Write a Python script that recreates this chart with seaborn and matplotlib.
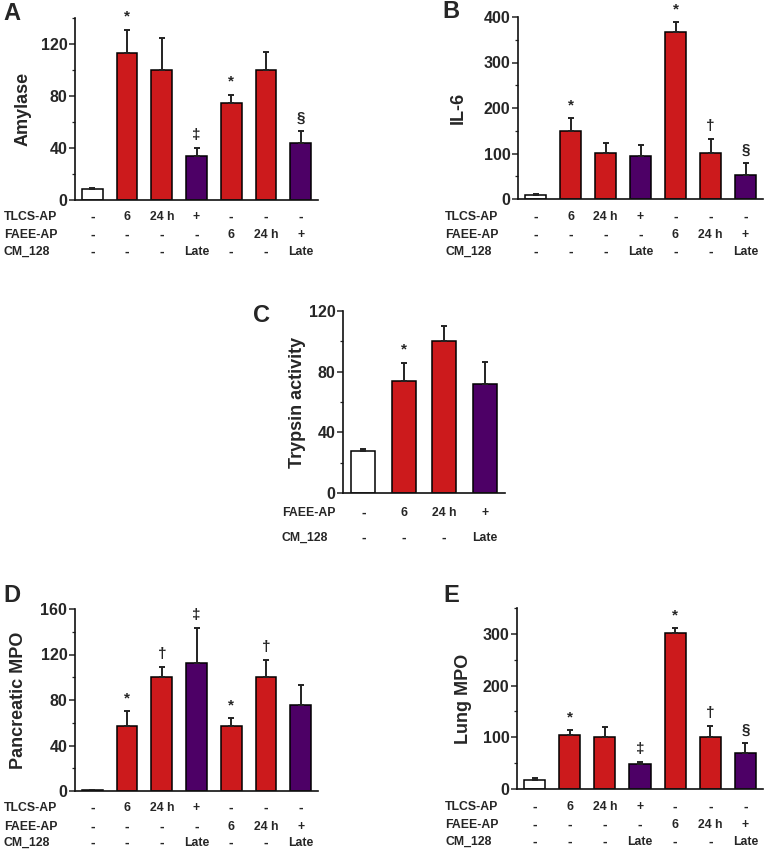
import numpy as np
import pandas as pd
import matplotlib
matplotlib.use("Agg")
from matplotlib import pyplot as plt
from matplotlib.ticker import MultipleLocator
import seaborn as sns

W, H = 765, 851

RED = "#cc1a1c"
PURPLE = "#4d0066"
WHITE = "#ffffff"

# Panel A - amylase
amy_mean = [8.5, 113, 100, 34, 75, 100, 44]
amy_err = [1, 18, 25, 6, 6, 14, 9]
amy_marks = ["", "*", "", "‡", "*", "", "§"]

# Panel B - IL-6
il6_mean = [9, 150, 101, 95, 366, 101, 52]
il6_err = [1, 28, 22, 24, 23, 31, 27]
il6_marks = ["", "*", "", "", "*", "†", "§"]

# Panel C - trypsin activity
tryp_mean = [27.5, 74, 100, 72]
tryp_err = [1.5, 12, 10, 14.5]
tryp_marks = ["", "*", "", ""]

# Panel D - pancreatic MPO
pmpo_mean = [0.6, 57, 100, 112.5, 57, 100, 76]
pmpo_err = [0.3, 13, 9, 30.5, 7, 15.5, 17]
pmpo_marks = ["", "*", "†", "‡", "*", "†", ""]

# Panel E - lung MPO
lmpo_mean = [18, 104, 100, 49, 301, 100, 70]
lmpo_err = [2.5, 10, 19, 3.5, 10, 22.5, 18.5]
lmpo_marks = ["", "*", "", "‡", "*", "†", "§"]

# treatment table under the bars
tlcs_row = ["-", "6", "24 h", "+", "-", "-", "-"]
faee_row = ["-", "-", "-", "-", "6", "24 h", "+"]
cm_row = ["-", "-", "-", "Late", "-", "-", "Late"]
faee_row_c = ["-", "6", "24 h", "+"]
cm_row_c = ["-", "-", "-", "Late"]

colors7 = [WHITE, RED, RED, PURPLE, RED, RED, PURPLE]
colors4 = [WHITE, RED, RED, PURPLE]


def px_axes(fig, left, top, right, bottom):
    # add axes using pixel coords of the 765x851 canvas
    return fig.add_axes([left / W, 1 - bottom / H, (right - left) / W, (bottom - top) / H])


def draw_panel(fig, box, means, errs, colors, marks, ylabel, ylim, major, minor,
               rows, row_x, row_dy, letter, letter_xy, ylabel_x):
    left, top, right, bottom = box
    ax = px_axes(fig, left, top, right, bottom)
    n = len(means)
    groups = [f"g{i}" for i in range(n)]
    df = pd.DataFrame({"group": groups, "value": means})
    sns.barplot(data=df, x="group", y="value", hue="group", palette=dict(zip(groups, colors)),
                legend=False, width=0.6, saturation=1, edgecolor="black", linewidth=1.1,
                errorbar=None, ax=ax)
    ax.errorbar(np.arange(n), means, yerr=[np.zeros(n), errs], fmt="none", ecolor="#222222",
                elinewidth=1.4, capsize=2.5, capthick=1.4)

    ax.set_xlim(-0.5, n - 0.5)
    ax.set_ylim(*ylim)
    ax.set_xticks([])
    ax.set_xlabel("")
    sns.despine(ax=ax)
    for sp in ["left", "bottom"]:
        ax.spines[sp].set_linewidth(1.2)
    ax.yaxis.set_major_locator(MultipleLocator(major))
    ax.yaxis.set_minor_locator(MultipleLocator(minor))
    ax.tick_params(axis="y", which="major", length=4, width=1.1, labelsize=11.5, pad=1.5)
    ax.tick_params(axis="y", which="minor", length=2.5, width=0.9)

    ax.set_ylabel(ylabel, fontsize=13, fontweight="bold")
    ax.yaxis.set_label_coords((ylabel_x - left) / (right - left), 0.5)

    # significance marks above the error bars
    for i, mk in enumerate(marks):
        if mk:
            ax.annotate(mk, xy=(i, means[i] + errs[i]), xytext=(0, 13), textcoords="offset pixels",
                        ha="center", va="center", fontsize=11)

    # treatment table
    for (name, vals), dy in zip(rows, row_dy):
        fig.text(row_x / W, 1 - (bottom + dy) / H, name, ha="left", va="center", fontsize=8.8)
        for i, v in enumerate(vals):
            ax.annotate(v, xy=(i, 0), xycoords=ax.get_xaxis_transform(), xytext=(0, -dy),
                        textcoords="offset pixels", ha="center", va="center",
                        fontsize=10 if v == "-" else 8.8, annotation_clip=False)

    fig.text(letter_xy[0] / W, 1 - letter_xy[1] / H, letter, ha="center", va="center",
             fontsize=17, fontweight="bold")
    return ax


sns.set_style("ticks")
plt.rcParams["font.family"] = ["Liberation Sans", "DejaVu Sans"]
plt.rcParams["font.weight"] = "bold"
plt.rcParams["axes.edgecolor"] = "#111111"

fig = plt.figure(figsize=(W / 100, H / 100), dpi=100)

rows7 = [("TLCS-AP", tlcs_row), ("FAEE-AP", faee_row), ("CM_128", cm_row)]

draw_panel(fig, (75, 18, 318, 200), amy_mean, amy_err, colors7, amy_marks, "Amylase",
           (0, 140), 40, 20, rows7, 4, [17, 35, 52], "A", (12, 13), 32)
draw_panel(fig, (518, 17, 763, 199), il6_mean, il6_err, colors7, il6_marks, "IL-6",
           (0, 400), 100, 50, rows7, 445, [18, 36, 53], "B", (451, 12), 467)
draw_panel(fig, (343, 311, 505, 493), tryp_mean, tryp_err, colors4, tryp_marks, "Trypsin activity",
           (0, 120), 40, 20, [("FAEE-AP", faee_row_c), ("CM_128", cm_row_c)], 282, [20, 45],
           "C", (261, 315), 306)
draw_panel(fig, (75, 609, 318, 791), pmpo_mean, pmpo_err, colors7, pmpo_marks, "Pancreatic MPO",
           (0, 160), 40, 20, rows7, 4, [17, 36, 52], "D", (12, 596), 27)
draw_panel(fig, (517, 608, 763, 789), lmpo_mean, lmpo_err, colors7, lmpo_marks, "Lung MPO",
           (0, 350), 100, 50, rows7, 445, [18, 36, 53], "E", (451, 596), 472)

fig.savefig("out.png", dpi=100)
